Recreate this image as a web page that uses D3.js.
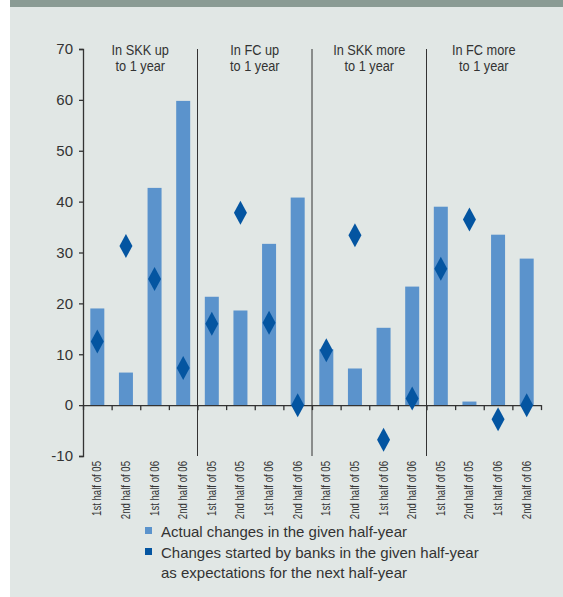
<!DOCTYPE html>
<html>
<head>
<meta charset="utf-8">
<script src="https://cdn.jsdelivr.net/npm/d3@7"></script>
<style>
  html, body { margin: 0; padding: 0; background: #ffffff; }
  svg { display: block; }
  text { font-family: "Liberation Sans", Arial, sans-serif; fill: #333; }
</style>
</head>
<body>
<svg id="chart" width="563" height="597"></svg>
<script>
// Groups of loan types and the half-year periods within each group
const groups = [
  ["In SKK up", "to 1 year"],
  ["In FC up", "to 1 year"],
  ["In SKK more", "to 1 year"],
  ["In FC more", "to 1 year"]
];
const periods = ["1st half of 05", "2nd half of 05", "1st half of 06", "2nd half of 06"];

// Actual changes in the given half-year (bars)
const actualChanges = [
  19.0, 6.4, 42.7, 59.8,
  21.3, 18.6, 31.7, 40.8,
  11.0, 7.2, 15.2, 23.3,
  39.0, 0.7, 33.5, 28.8
];
// Changes started by banks as expectations for the next half-year (diamonds)
const expectedChanges = [
  12.5, 31.3, 24.8, 7.3,
  16.0, 37.8, 16.2, 0.0,
  10.8, 33.4, -6.8, 1.3,
  26.8, 36.5, -2.8, 0.0
];
const yTicks = [-10, 0, 10, 20, 30, 40, 50, 60, 70];

const legendItems = [
  { color: "#5b93cc", lines: ["Actual changes in the given half-year"] },
  { color: "#0455a1", lines: ["Changes started by banks in the given half-year", "as expectations for the next half-year"] }
];

const svg = d3.select("#chart");

// Panel background and top band
svg.append("rect").attr("x", 10).attr("y", 0).attr("width", 553).attr("height", 597).attr("fill", "#e1e7e5");
svg.append("rect").attr("x", 10).attr("y", 0).attr("width", 553).attr("height", 7).attr("fill", "#8a9b94");

const plotLeft = 83, plotRight = 541, plotTop = 49, plotBottom = 456;

const cats = [];
groups.forEach((g, gi) => periods.forEach((p, pi) => cats.push(gi + "|" + pi)));

const x = d3.scaleBand().domain(cats).range([plotLeft, plotRight]).paddingInner(0).paddingOuter(0);
const y = d3.scaleLinear().domain([-10, 70]).range([plotBottom, plotTop]);

const barW = 14;

// Bars
svg.append("g").selectAll("rect")
  .data(actualChanges)
  .join("rect")
  .attr("x", (d, i) => x(cats[i]) + x.bandwidth() / 2 - barW / 2)
  .attr("y", d => y(Math.max(0, d)))
  .attr("width", barW)
  .attr("height", d => Math.abs(y(d) - y(0)))
  .attr("fill", "#5b93cc");

// Y axis
const yAxis = d3.axisLeft(y).tickValues(yTicks).tickSize(4).tickPadding(6).tickFormat(d3.format("d"));
const yg = svg.append("g").attr("transform", `translate(${plotLeft},0)`).call(yAxis);
yg.select(".domain").attr("stroke", "#333").attr("stroke-width", 1.3);
yg.selectAll(".tick line").attr("stroke", "#333").attr("stroke-width", 1.3);
yg.selectAll(".tick text").style("font-size", "15px").attr("fill", "#333")
  .text(d => d < 0 ? "-" + Math.abs(d) : d);

// Zero line with ticks at category boundaries
const xg = svg.append("g").attr("transform", `translate(0,${y(0)})`).call(
  d3.axisBottom(d3.scaleLinear().domain([0, cats.length]).range([plotLeft, plotRight]))
    .tickValues(d3.range(0, cats.length + 1)).tickSize(5).tickSizeOuter(0).tickFormat("")
);
xg.select(".domain").attr("stroke", "#333").attr("stroke-width", 1.3);
xg.selectAll(".tick line").attr("stroke", "#333").attr("stroke-width", 1.3);

// Group separators
svg.append("g").selectAll("line")
  .data(d3.range(1, groups.length))
  .join("line")
  .attr("x1", d => x(cats[d * periods.length]))
  .attr("x2", d => x(cats[d * periods.length]))
  .attr("y1", plotTop)
  .attr("y2", plotBottom)
  .attr("stroke", "#333")
  .attr("stroke-width", 1);

// Group titles (condensed)
svg.append("g").selectAll("g")
  .data(groups)
  .join("g")
  .attr("transform", (d, i) => `translate(${x(cats[i * periods.length]) + x.bandwidth() * periods.length / 2},55) scale(0.88,1)`)
  .each(function (d) {
    d3.select(this).selectAll("text")
      .data(d)
      .join("text")
      .attr("text-anchor", "middle")
      .attr("y", (t, j) => j * 16)
      .style("font-size", "14.5px")
      .text(t => t);
  });

// Diamonds
const dw = 6.5, dh = 12;
svg.append("g").selectAll("path")
  .data(expectedChanges)
  .join("path")
  .attr("transform", (d, i) => `translate(${x(cats[i]) + x.bandwidth() / 2},${y(d)})`)
  .attr("d", `M0,${-dh}L${dw},0L0,${dh}L${-dw},0Z`)
  .attr("fill", "#0455a1");

// Category labels, rotated and condensed
svg.append("g").selectAll("text")
  .data(cats)
  .join("text")
  .attr("transform", (d) => `translate(${x(d) + x.bandwidth() / 2 + 4},461) rotate(-90) scale(0.8,1)`)
  .attr("text-anchor", "end")
  .style("font-size", "12px")
  .text(d => periods[+d.split("|")[1]]);

// Legend
const lg = svg.append("g").attr("transform", "translate(145,527)");
legendItems.forEach((item, i) => {
  const gy = i * 21;
  lg.append("rect").attr("x", 0).attr("y", gy).attr("width", 7).attr("height", 7).attr("fill", item.color);
  item.lines.forEach((line, j) => {
    lg.append("text").attr("x", 16).attr("y", gy + 10 + j * 20).style("font-size", "15px").text(line);
  });
});
</script>
</body>
</html>
